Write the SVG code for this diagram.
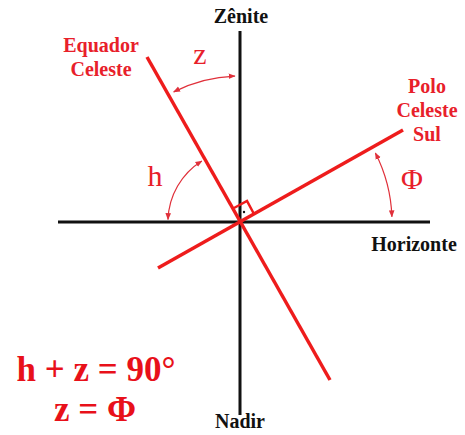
<svg xmlns="http://www.w3.org/2000/svg" width="465" height="435" viewBox="0 0 465 435">
<style>
.axis{stroke:#111;stroke-width:3;fill:none}
.red{stroke:#ee1c1c;stroke-width:3.5;fill:none;stroke-linecap:butt}
.arc{stroke:#e0303a;stroke-width:1.2;fill:none}
.lblk{font-family:"Liberation Serif","Times New Roman",serif;font-weight:bold;font-size:20px;fill:#111;text-anchor:middle}
.lred{font-family:"Liberation Serif","Times New Roman",serif;font-weight:bold;font-size:20px;fill:#e8202a;text-anchor:middle}
.sym{font-family:"Liberation Serif","Times New Roman",serif;font-size:30px;fill:#e8202a;text-anchor:middle}
.eq{font-family:"Liberation Serif","Times New Roman",serif;font-weight:bold;font-size:35px;fill:#e8101a;text-anchor:middle}
</style>
<defs>
<marker id="ah" viewBox="0 0 10 10" refX="9" refY="5" markerWidth="7" markerHeight="7" markerUnits="userSpaceOnUse" orient="auto-start-reverse">
<path d="M0,1 L10,5 L0,9 Z" fill="#e0303a"/>
</marker>
</defs>
<g id="connectors">
<line class="axis" x1="240" y1="31" x2="240" y2="415"/>
<line class="axis" x1="58" y1="222" x2="430" y2="222"/>
<line class="red" x1="147" y1="57" x2="330" y2="380"/>
<line class="red" x1="158" y1="268" x2="403" y2="130"/>
<path d="M234,208 L247,201 L254,214" stroke="#ee1c1c" stroke-width="2.5" fill="none"/>
<circle cx="244" cy="212" r="1.2" fill="#111"/>
<path class="arc" d="M234.9,76.1 A146,146 0 0 0 173.7,91.9" marker-start="url(#ah)" marker-end="url(#ah)"/>
<path class="arc" d="M201.8,161 A72,72 0 0 0 168,219.5" marker-start="url(#ah)" marker-end="url(#ah)"/>
<path class="arc" d="M375.4,153 A152,152 0 0 1 391.9,216.7" marker-start="url(#ah)" marker-end="url(#ah)"/>
</g>
<g id="zenite"><text class="lblk" x="241" y="23">Zênite</text></g>
<g id="nadir"><text class="lblk" x="240" y="428">Nadir</text></g>
<g id="horizonte"><text class="lblk" x="414" y="251">Horizonte</text></g>
<g id="equador"><text class="lred" x="101" y="52">Equador</text><text class="lred" x="101" y="76">Celeste</text></g>
<g id="polo"><text class="lred" x="427" y="93">Polo</text><text class="lred" x="427" y="117">Celeste</text><text class="lred" x="427" y="141">Sul</text></g>
<g id="z-label"><text class="sym" x="200" y="64">z</text></g>
<g id="h-label"><text class="sym" x="155" y="186">h</text></g>
<g id="phi-label"><text class="sym" x="412" y="189">Φ</text></g>
<g id="formulas"><text class="eq" x="96" y="381">h + z = 90°</text><text class="eq" x="95" y="421">z = Φ</text></g>
</svg>
